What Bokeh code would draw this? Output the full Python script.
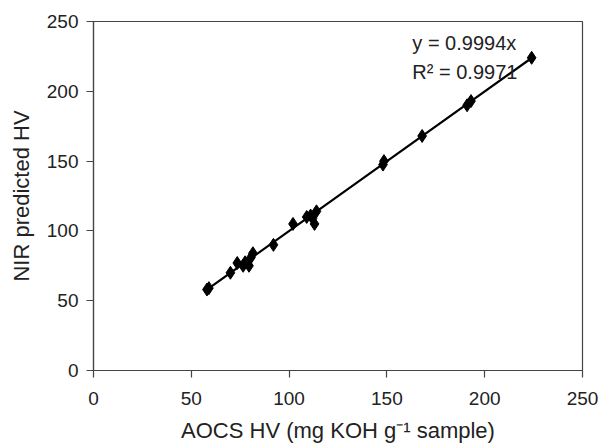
from bokeh.plotting import figure
from bokeh.models import ColumnDataSource, Range1d, FixedTicker, Label
from bokeh.embed import file_html
from bokeh.resources import INLINE

aocs_hv = [58, 59, 70, 73.5, 76.5, 77.5, 79.5, 80.5, 81.5, 92, 102, 109, 111, 112, 113, 114, 148, 148.5, 168, 191, 193, 224]
nir_hv = [58, 59, 70, 77, 75, 77.5, 75, 81, 84, 90, 105, 110, 111, 109, 105, 114, 147.5, 150, 168, 190, 193, 224]
slope = 0.9994
r2 = 0.9971
ticks = [0, 50, 100, 150, 200, 250]

FONT = "Liberation Sans"

p = figure(width=600, height=445, output_backend="svg", toolbar_location=None,
           x_range=Range1d(0, 250), y_range=Range1d(0, 250),
           min_border_left=93, min_border_right=18, min_border_top=21, min_border_bottom=74)

p.xgrid.visible = False
p.ygrid.visible = False
p.outline_line_color = "#444444"
p.outline_line_width = 1.2

for ax in (p.xaxis[0], p.yaxis[0]):
    ax.ticker = FixedTicker(ticks=ticks)
    ax.minor_tick_line_color = None
    ax.major_tick_in = 0
    ax.major_tick_out = 7
    ax.axis_line_color = "#444444"
    ax.major_tick_line_color = "#444444"
    ax.axis_line_width = 1.2
    ax.major_tick_line_width = 1.2
    ax.major_label_text_font = FONT
    ax.major_label_text_font_size = "19px"
    ax.major_label_text_color = "#222222"
    ax.axis_label_text_font = FONT
    ax.axis_label_text_font_size = "22px"
    ax.axis_label_text_font_style = "normal"
    ax.axis_label_text_color = "#222222"

p.xaxis.axis_label = "AOCS HV (mg KOH g\u207b\u00b9 sample)"
p.yaxis.axis_label = "NIR predicted HV"
p.xaxis.major_label_standoff = 14
p.yaxis.major_label_standoff = 8
p.xaxis.axis_label_standoff = 10
p.yaxis.axis_label_standoff = 10

xs = [min(aocs_hv), max(aocs_hv)]
p.line(xs, [slope * v for v in xs], line_color="black", line_width=2.2)

src = ColumnDataSource(dict(x=aocs_hv, y=nir_hv))
p.scatter("x", "y", source=src, marker="diamond", size=13, fill_color="black", line_color="black")

p.add_layout(Label(x=163, y=234.5, text=f"y = {slope}x", text_font=FONT, text_font_size="20px",
                   text_color="#222222", text_baseline="middle", text_align="left"))
p.add_layout(Label(x=163, y=214, text=f"R\u00b2 = {r2}", text_font=FONT, text_font_size="20px",
                   text_color="#222222", text_baseline="middle", text_align="left"))

open("out.html", "w").write(file_html(p, INLINE))
